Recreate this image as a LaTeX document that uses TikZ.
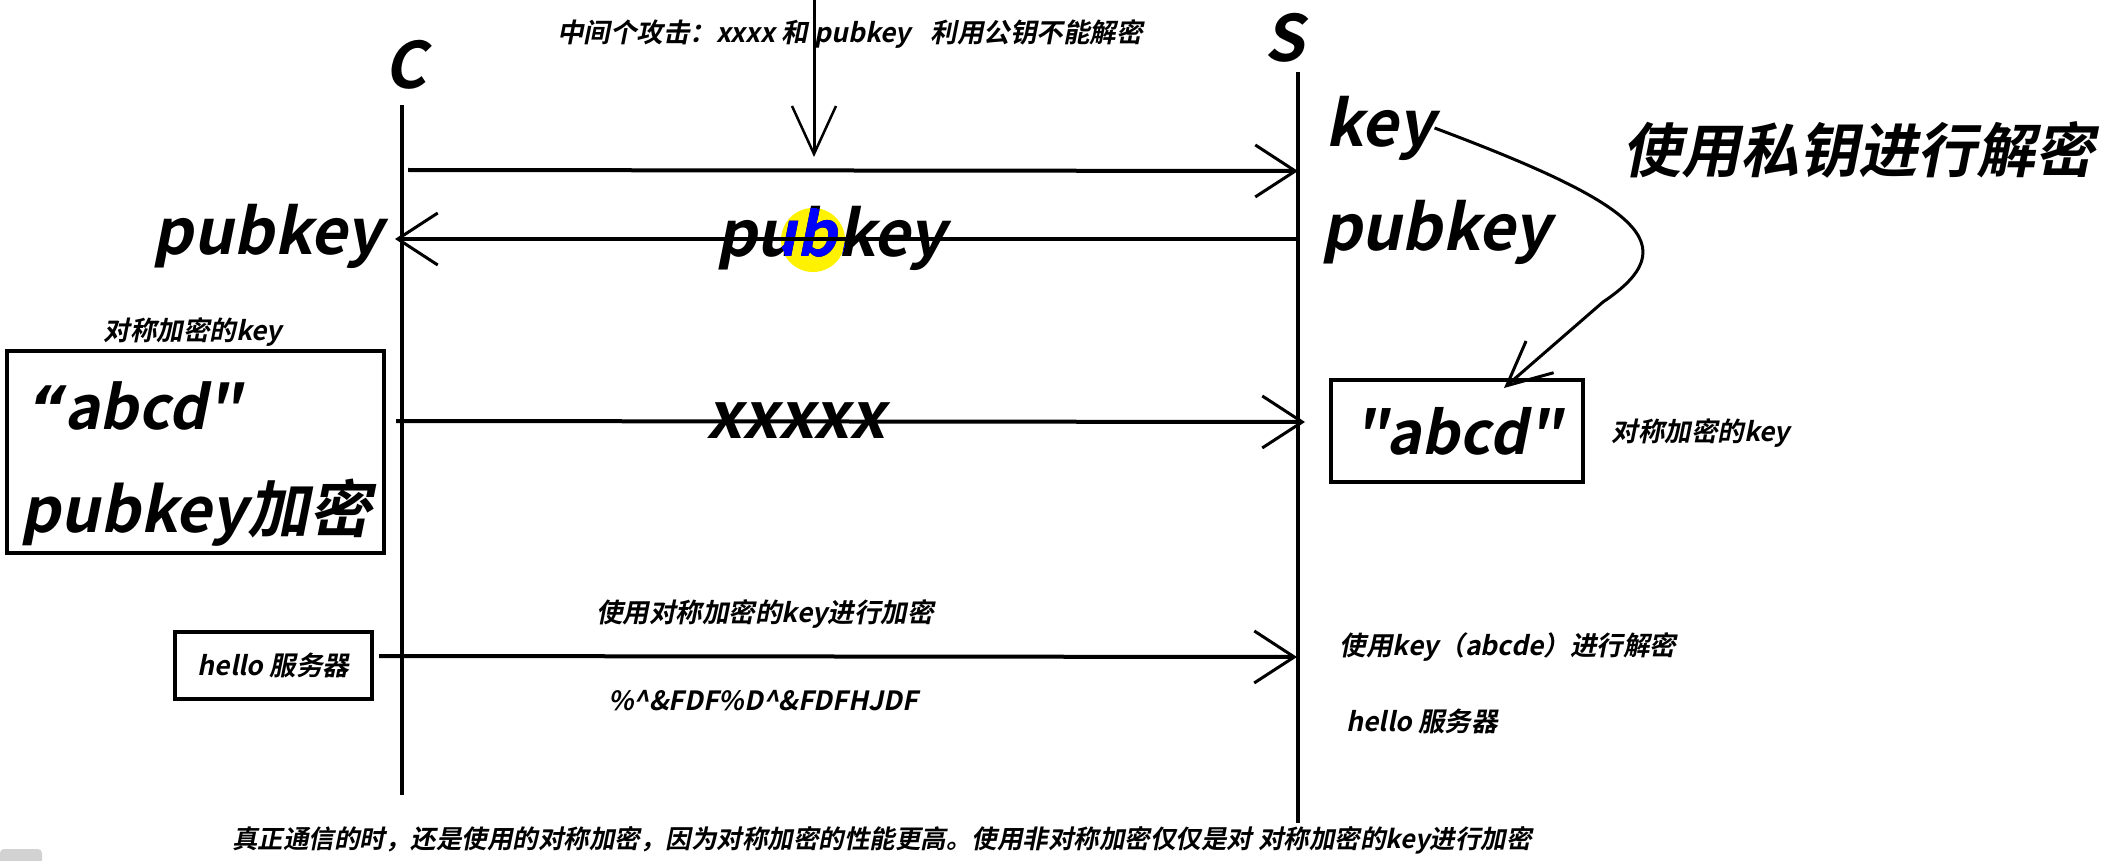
\documentclass[tikz,border=0pt]{standalone}
\usepackage{fontspec}
\newfontfamily\bi{Noto Sans CJK SC Bold}[FakeSlant=0.2]
\newfontfamily\bilat{DejaVu Sans}[FakeSlant=0.2]
\usetikzlibrary{arrows.meta}
\begin{document}
\begin{tikzpicture}[x=1pt,y=-1pt,
  lifeline/.style={line width=3.5pt},
  msg/.style={line width=4pt,-{Straight Barb[length=40pt,width=52pt,line width=3pt]}},
  lbl/.style={inner sep=0pt},
  big/.style={lbl,font={\bi\fontsize{63}{70}\selectfont}},
  huge/.style={lbl,font={\bi\fontsize{62}{70}\selectfont}},
  small/.style={lbl,font={\bi\fontsize{26.5}{30}\selectfont}},
  box/.style={draw,line width=4.5pt,inner sep=0pt},
]
\useasboundingbox (0,0) rectangle (2113,861);

% lifelines
\coordinate (ctop) at (402,105);
\coordinate (cbot) at (402,795);
\coordinate (stop) at (1298,72);
\coordinate (sbot) at (1298,823);
\draw[lifeline] (ctop) -- (cbot);
\draw[lifeline] (stop) -- (sbot);
\node[huge,font={\bi\fontsize{64}{70}\selectfont}] (C) at (405,65) {C};
\node[huge,font={\bi\fontsize{64}{70}\selectfont}] (S) at (1284,38) {S};

% attack annotation
\node[small] (atktext) at (850,34) {中间个攻击：xxxx 和 pubkey\hspace{20pt}利用公钥不能解密};
\coordinate (atk0) at (814,0);
\coordinate (atk1) at (814,157);
\draw[line width=3pt,-{Straight Barb[length=48pt,width=44pt,line width=2.5pt]}] (atk0) -- (atk1);

% message 1
\coordinate (m1a) at (408,170);
\coordinate (m1b) at (1298,171);
\draw[msg] (m1a) -- (m1b);

% message 2 (pubkey)
\fill[yellow] (813,240) circle (32);
\node[big] (pubM) at (831,238) {pubkey};
\begin{scope}
  \clip (813,240) circle (32);
  \node[big,text=blue] (pubMb) at (831,238) {pubkey};
\end{scope}
\coordinate (m2a) at (1298,239);
\coordinate (m2b) at (395,239);
\draw[msg] (m2a) -- (m2b);
\node[big] (pubL) at (268,236) {pubkey};
\node[big] (keyS) at (1380,128) {key};
\node[big] (pubS) at (1436,232) {pubkey};
\node[lbl,font={\bi\fontsize{59}{64}\selectfont}] (priv) at (1858,150) {使用私钥进行解密};

% left box
\node[small] (symL) at (193,332) {对称加密的key};
\node[box,minimum width=377pt,minimum height=202pt] (boxL) at (195.5,452) {};
\node[lbl,font={\bi\fontsize{60}{70}\selectfont}] (abcdL) at (133,406) {{\bilat\bfseries “}abcd"};
\node[huge] (pubenc) at (196,513) {pubkey加密};

% message 3
\coordinate (m3a) at (396,421);
\coordinate (m3b) at (1305,422);
\draw[msg] (m3a) -- (m3b);
\node[huge,font={\bi\fontsize{64}{70}\selectfont}] (xx) at (796,421) {xxxxx};

% right box
\node[box,font={\bi\fontsize{59}{70}\selectfont},minimum width=252pt,minimum height=102pt] (boxR) at (1457,431) {"abcd"};
\node[small] (symR) at (1701,433) {对称加密的key};
\coordinate (ktip) at (1504,388);
\draw[line width=3pt,-{Straight Barb[length=44pt,width=42pt,line width=3pt]}]
  (keyS.east) .. controls (1640,205) and (1688,245) .. (1603,302) -- (ktip);

% message 4
\node[small] (usesym) at (765,614) {使用对称加密的key进行加密};
\node[box,small,minimum width=197pt,minimum height=67pt] (hello) at (273.5,665.5) {hello 服务器};
\coordinate (m4a) at (379,656);
\coordinate (m4b) at (1297,657);
\draw[msg] (m4a) -- (m4b);
\node[small] (cipher) at (763,701) {\%\textasciicircum\&FDF\%D\textasciicircum\&FDFHJDF};
\node[small] (dec) at (1508,647) {使用key（abcde）进行解密};
\node[small] (helloS) at (1422,721) {hello 服务器};

% bottom
\node[lbl,font={\bi\fontsize{25.5}{30}\selectfont}] (bottom) at (882,840) {真正通信的时，还是使用的对称加密，因为对称加密的性能更高。使用非对称加密仅仅是对 对称加密的key进行加密};
\fill[gray!35,rounded corners=4pt] (0,849) rectangle (42,866);
\end{tikzpicture}
\end{document}
